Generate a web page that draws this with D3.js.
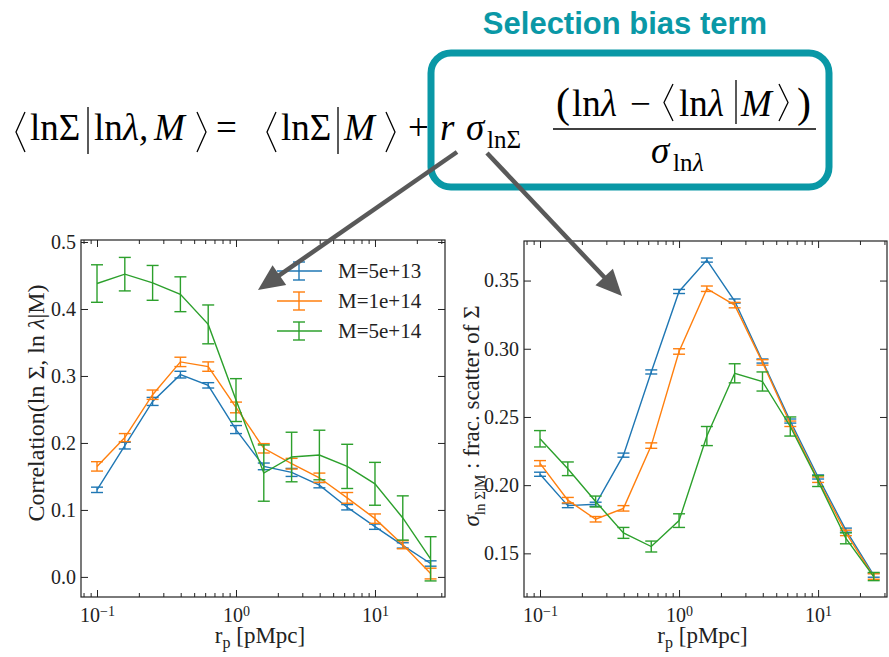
<!DOCTYPE html>
<html>
<head>
<meta charset="utf-8">
<script src="https://cdn.jsdelivr.net/npm/d3@7"></script>
<style>
  body { margin: 0; background: #fff; }
  svg { display: block; }
  .axis path { display: none; }
  .axis line { stroke: #222; stroke-width: 1; }
  .axis text { font-family: "Liberation Serif", serif; font-size: 20px; fill: #222; }
</style>
</head>
<body>
<div class="chart"></div>
<script>
// radial bins (pMpc), same for both panels
const rp = [0.1, 0.1585, 0.2512, 0.3981, 0.631, 1.0, 1.585, 2.512, 3.981, 6.31, 10, 15.85, 25.12];
const massLabels = ["M=5e+13", "M=1e+14", "M=5e+14"];
const seriesColors = ["#1f77b4", "#ff7f0e", "#2ca02c"];

// left panel: correlation(ln Sigma, ln lambda | M)
const corrM1 = [0.130, 0.196, 0.262, 0.302, 0.286, 0.220, 0.165, 0.156, 0.137, 0.104, 0.075, 0.047, 0.020];
const corrErrM1 = [0.004, 0.005, 0.006, 0.005, 0.004, 0.006, 0.005, 0.006, 0.004, 0.004, 0.004, 0.004, 0.004];
const corrM2 = [0.165, 0.208, 0.272, 0.321, 0.314, 0.253, 0.192, 0.169, 0.148, 0.118, 0.087, 0.048, 0.005];
const corrErrM2 = [0.007, 0.006, 0.007, 0.007, 0.007, 0.008, 0.007, 0.008, 0.007, 0.008, 0.007, 0.006, 0.008];
const corrM3 = [0.438, 0.452, 0.439, 0.422, 0.377, 0.264, 0.155, 0.179, 0.182, 0.165, 0.139, 0.088, 0.027];
const corrErrM3 = [0.028, 0.025, 0.026, 0.026, 0.029, 0.032, 0.042, 0.037, 0.037, 0.033, 0.032, 0.033, 0.033];

// right panel: fractional scatter of Sigma
const scatM1 = [0.208, 0.185, 0.186, 0.222, 0.283, 0.342, 0.365, 0.335, 0.291, 0.247, 0.206, 0.167, 0.134];
const scatErrM1 = [0.0015, 0.0015, 0.0015, 0.0015, 0.0015, 0.0015, 0.0015, 0.0015, 0.0015, 0.0015, 0.0015, 0.0015, 0.0015];
const scatM2 = [0.216, 0.189, 0.175, 0.183, 0.229, 0.298, 0.344, 0.332, 0.290, 0.245, 0.204, 0.165, 0.133];
const scatErrM2 = [0.002, 0.002, 0.002, 0.002, 0.002, 0.002, 0.002, 0.002, 0.002, 0.002, 0.002, 0.002, 0.002];
const scatM3 = [0.234, 0.212, 0.188, 0.165, 0.155, 0.174, 0.236, 0.282, 0.276, 0.243, 0.203, 0.161, 0.133];
const scatErrM3 = [0.006, 0.005, 0.004, 0.004, 0.004, 0.005, 0.007, 0.007, 0.007, 0.007, 0.004, 0.004, 0.003];

const xMajor = [0.1, 1, 10];
const corrTicks = [0.0, 0.1, 0.2, 0.3, 0.4, 0.5];
const scatTicks = [0.15, 0.20, 0.25, 0.30, 0.35];

const W = 889, H = 657;
const teal = "#0a98a6";
const serif = "'Liberation Serif', 'Times New Roman', serif";

const svg = d3.select(".chart").append("svg")
    .attr("width", W)
    .attr("height", H);

// ---------- panels ----------
function drawPanel(opt) {
    const x = d3.scaleLog().domain(opt.xDomain).range([opt.left, opt.right]);
    const y = d3.scaleLinear().domain(opt.yDomain).range([opt.bottom, opt.top]);
    const g = svg.append("g");

    // minor log ticks
    const minors = [];
    for (let e = -2; e <= 1; e++) {
        for (let m = 2; m <= 9; m++) {
            const v = m * Math.pow(10, e);
            if (v > opt.xDomain[0] && v < opt.xDomain[1]) minors.push(v);
        }
    }
    const sup = (d) => {
        const e = Math.round(Math.log10(d));
        return e < 0 ? "\u2212" + (-e) : String(e);
    };

    const xb = g.append("g").attr("class", "axis")
        .attr("transform", "translate(0," + opt.bottom + ")")
        .call(d3.axisBottom(x).tickValues(xMajor).tickSizeInner(-7).tickSizeOuter(0).tickPadding(11).tickFormat(""));
    xb.selectAll(".tick text").each(function (d) {
        const t = d3.select(this).text("10");
        t.append("tspan").attr("dy", "-0.45em").attr("font-size", "14px").text(sup(d));
    });
    g.append("g").attr("class", "axis")
        .attr("transform", "translate(0," + opt.bottom + ")")
        .call(d3.axisBottom(x).tickValues(minors).tickSizeInner(-4).tickSizeOuter(0).tickFormat(""));
    g.append("g").attr("class", "axis")
        .attr("transform", "translate(0," + opt.top + ")")
        .call(d3.axisTop(x).tickValues(xMajor).tickSizeInner(-7).tickSizeOuter(0).tickFormat(""));
    g.append("g").attr("class", "axis")
        .attr("transform", "translate(0," + opt.top + ")")
        .call(d3.axisTop(x).tickValues(minors).tickSizeInner(-4).tickSizeOuter(0).tickFormat(""));

    g.append("g").attr("class", "axis")
        .attr("transform", "translate(" + opt.left + ",0)")
        .call(d3.axisLeft(y).tickValues(opt.yTicks).tickSizeInner(-7).tickSizeOuter(0).tickPadding(5).tickFormat(d3.format(opt.yFormat)));
    g.append("g").attr("class", "axis")
        .attr("transform", "translate(" + opt.right + ",0)")
        .call(d3.axisRight(y).tickValues(opt.yTicks).tickSizeInner(-7).tickSizeOuter(0).tickFormat(""));

    g.append("rect")
        .attr("x", opt.left).attr("y", opt.top)
        .attr("width", opt.right - opt.left).attr("height", opt.bottom - opt.top)
        .attr("fill", "none").attr("stroke", "#222").attr("stroke-width", 1.2);

    const line = d3.line().x(d => x(d.r)).y(d => y(d.v));
    const cap = 6;
    opt.series.forEach((s, i) => {
        const pts = rp.map((r, k) => ({ r: r, v: s.vals[k], e: s.errs[k] }));
        const sg = g.append("g").attr("stroke", seriesColors[i]).attr("fill", "none").attr("stroke-width", 1.4);
        sg.append("path").attr("d", line(pts));
        const eb = sg.selectAll(".eb").data(pts).enter().append("g").attr("class", "eb");
        eb.append("line")
            .attr("x1", d => x(d.r)).attr("x2", d => x(d.r))
            .attr("y1", d => y(d.v - d.e)).attr("y2", d => y(d.v + d.e));
        eb.append("line")
            .attr("x1", d => x(d.r) - cap).attr("x2", d => x(d.r) + cap)
            .attr("y1", d => y(d.v + d.e)).attr("y2", d => y(d.v + d.e));
        eb.append("line")
            .attr("x1", d => x(d.r) - cap).attr("x2", d => x(d.r) + cap)
            .attr("y1", d => y(d.v - d.e)).attr("y2", d => y(d.v - d.e));
    });

    // x label r_p [pMpc]
    const xl = g.append("text")
        .attr("x", (opt.left + opt.right) / 2 - 3).attr("y", 643)
        .attr("text-anchor", "middle")
        .attr("font-family", serif).attr("font-size", "23px").attr("fill", "#222");
    xl.append("tspan").text("r");
    xl.append("tspan").attr("dy", 5).attr("font-size", "16px").text("p");
    xl.append("tspan").attr("dy", -5).text(" [pMpc]");
    return { x: x, y: y, g: g };
}

const left = drawPanel({
    left: 81, right: 445, top: 240, bottom: 597,
    xDomain: [0.0767, 31.9], yDomain: [-0.03, 0.503],
    yTicks: corrTicks, yFormat: ".1f",
    series: [
        { vals: corrM1, errs: corrErrM1 },
        { vals: corrM2, errs: corrErrM2 },
        { vals: corrM3, errs: corrErrM3 }
    ]
});
const right = drawPanel({
    left: 524, right: 887, top: 241, bottom: 597,
    xDomain: [0.0767, 31.3], yDomain: [0.118, 0.379],
    yTicks: scatTicks, yFormat: ".2f",
    series: [
        { vals: scatM1, errs: scatErrM1 },
        { vals: scatM2, errs: scatErrM2 },
        { vals: scatM3, errs: scatErrM3 }
    ]
});

// y labels
const yl1 = svg.append("text")
    .attr("transform", "translate(44,403) rotate(-90)")
    .attr("text-anchor", "middle")
    .attr("font-family", serif).attr("font-size", "24px").attr("fill", "#222");
yl1.append("tspan").text("Correlation(ln \u03A3, ln ");
yl1.append("tspan").attr("font-style", "italic").text("\u03BB");
yl1.append("tspan").text("|M)");

const yl2 = svg.append("text")
    .attr("transform", "translate(479,416) rotate(-90)")
    .attr("text-anchor", "middle")
    .attr("font-family", serif).attr("font-size", "23px").attr("fill", "#222");
yl2.append("tspan").attr("font-style", "italic").text("\u03C3");
yl2.append("tspan").attr("dy", 6).attr("font-size", "15px").text("ln \u03A3|M");
yl2.append("tspan").attr("dy", -6).text(" : frac. scatter of \u03A3");

// legend
const legend = left.g.append("g").attr("transform", "translate(277,271)");
massLabels.forEach((lab, i) => {
    const row = legend.append("g").attr("transform", "translate(0," + (i * 30) + ")");
    const c = seriesColors[i];
    row.append("line").attr("x1", 0).attr("x2", 45).attr("y1", 0).attr("y2", 0).attr("stroke", c).attr("stroke-width", 1.4);
    row.append("line").attr("x1", 22).attr("x2", 22).attr("y1", -9).attr("y2", 9).attr("stroke", c).attr("stroke-width", 1.4);
    row.append("line").attr("x1", 16).attr("x2", 28).attr("y1", -9).attr("y2", -9).attr("stroke", c).attr("stroke-width", 1.4);
    row.append("line").attr("x1", 16).attr("x2", 28).attr("y1", 9).attr("y2", 9).attr("stroke", c).attr("stroke-width", 1.4);
    row.append("text").attr("x", 61).attr("y", 7)
        .attr("font-family", serif).attr("font-size", "21px").attr("fill", "#222").text(lab);
});

// ---------- equation ----------
const eq = svg.append("g").attr("font-family", serif).attr("fill", "#000");
function angle(x0, y0, y1, open) {
    const w = 9, ym = (y0 + y1) / 2;
    const pts = open ? [[x0 + w, y0], [x0, ym], [x0 + w, y1]] : [[x0, y0], [x0 + w, ym], [x0, y1]];
    eq.append("path").attr("d", d3.line()(pts)).attr("fill", "none").attr("stroke", "#000").attr("stroke-width", 1.3);
}
function bar(x0, y0, y1) {
    eq.append("line").attr("x1", x0).attr("x2", x0).attr("y1", y0).attr("y2", y1).attr("stroke", "#000").attr("stroke-width", 1.3);
}
function txt(x0, y0, s, size, italic) {
    eq.append("text").attr("x", x0).attr("y", y0).attr("font-size", size + "px")
        .attr("font-style", italic ? "italic" : "normal").text(s);
}
const base = 140, fs = 37;
angle(16, 112, 152, true);
txt(30, base, "ln\u03A3", fs);
bar(88, 107, 154);
txt(94, base, "ln", fs); txt(123, base, "\u03BB,", fs, true);
txt(154, base, "M", fs, true);
angle(197, 112, 152, false);
txt(216, base, "=", fs);
angle(267, 112, 152, true);
txt(281, base, "ln\u03A3", fs);
bar(338, 107, 154);
txt(344, base, "M", fs, true);
angle(386, 112, 152, false);
txt(408, base, "+", fs);
txt(440, base, "r", fs, true);
txt(466, base, "\u03C3", fs, true);
txt(487, base + 8, "ln\u03A3", 25);
// fraction
eq.append("line").attr("x1", 553).attr("x2", 816).attr("y1", 129).attr("y2", 129).attr("stroke", "#000").attr("stroke-width", 1.6);
txt(556, 117, "(", 42);
txt(572, 116, "ln", fs); txt(601, 116, "\u03BB", fs, true);
txt(630, 116, "\u2212", fs);
angle(664, 84, 121, true);
txt(679, 116, "ln", fs); txt(708, 116, "\u03BB", fs, true);
bar(736, 80, 124);
txt(741, 116, "M", fs, true);
angle(779, 84, 121, false);
txt(797, 117, ")", 42);
txt(651, 163, "\u03C3", fs, true);
txt(673, 171, "ln", 25); txt(693, 171, "\u03BB", 25, true);

// selection bias box + title
svg.append("rect")
    .attr("x", 431).attr("y", 53).attr("width", 398).attr("height", 134)
    .attr("rx", 20).attr("ry", 20)
    .attr("fill", "none").attr("stroke", teal).attr("stroke-width", 7);
svg.append("text")
    .attr("x", 625).attr("y", 34)
    .attr("text-anchor", "middle")
    .attr("font-family", "'Liberation Sans', Arial, sans-serif")
    .attr("font-weight", "bold").attr("font-size", "31px")
    .attr("fill", teal).text("Selection bias term");

// arrows
function arrow(x0, y0, x1, y1) {
    const dx = x1 - x0, dy = y1 - y0, L = Math.hypot(dx, dy);
    const ux = dx / L, uy = dy / L, hl = 26, hw = 12;
    const bx = x1 - ux * hl, by = y1 - uy * hl;
    svg.append("line").attr("x1", x0).attr("y1", y0).attr("x2", bx + ux * 2).attr("y2", by + uy * 2)
        .attr("stroke", "#595959").attr("stroke-width", 4.5);
    svg.append("path")
        .attr("d", d3.line()([[x1, y1], [bx - uy * hw, by + ux * hw], [bx + uy * hw, by - ux * hw]]) + "Z")
        .attr("fill", "#595959");
}
arrow(457, 152, 258, 290);
arrow(487, 153, 622, 296);
</script>
</body>
</html>
